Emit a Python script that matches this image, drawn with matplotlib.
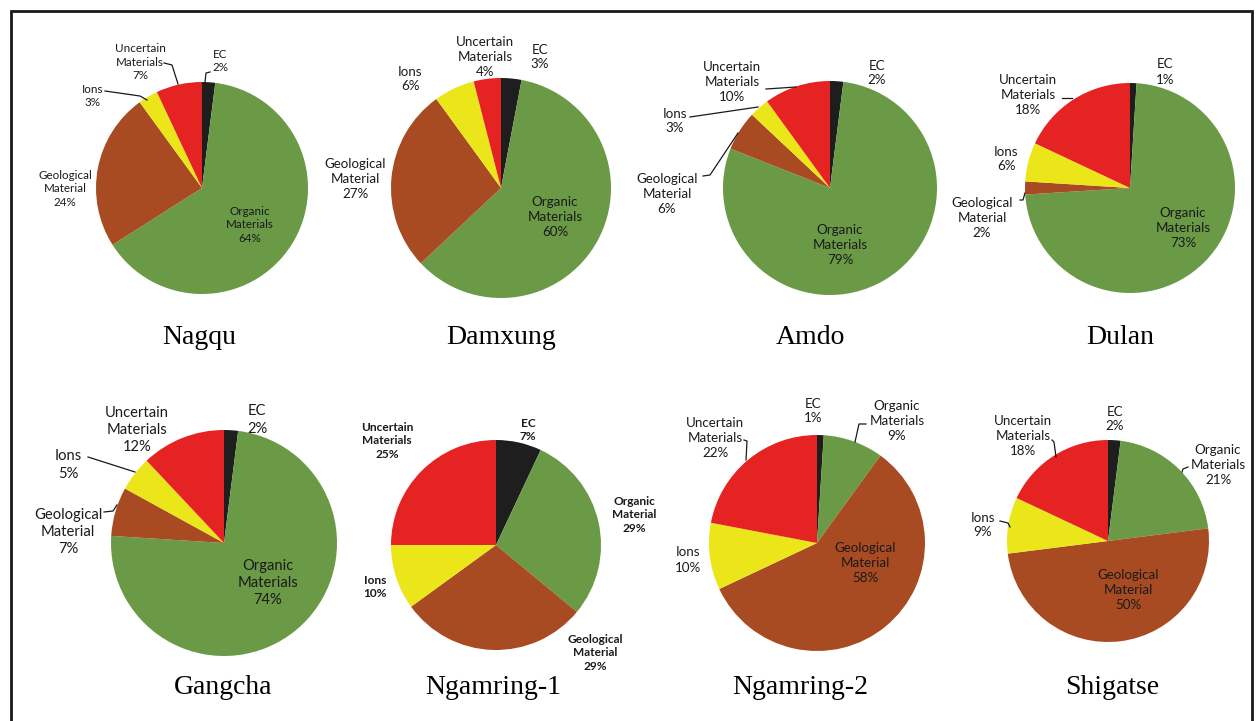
import matplotlib.pyplot as plt
from matplotlib.patches import Rectangle

# ---- data (percent of PM mass) ----
sites = ['Nagqu', 'Damxung', 'Amdo', 'Dulan',
         'Gangcha', 'Ngamring-1', 'Ngamring-2', 'Shigatse']
components = ['EC', 'Organic\nMaterials', 'Geological\nMaterial', 'Ions', 'Uncertain\nMaterials']
ec = [2, 3, 2, 1, 2, 7, 1, 2]
organic = [64, 60, 79, 73, 74, 29, 9, 21]
geological = [24, 27, 6, 2, 7, 29, 58, 50]
ions = [3, 6, 3, 6, 5, 10, 10, 9]
uncertain = [7, 4, 10, 18, 12, 25, 22, 18]

colors = ['#1e1e1e', '#6a9a46', '#a84b22', '#ebe619', '#e52322']

W, H = 1258, 721

# ---- layout in pixels: pie centre, radius, title position, font size ----
layout = {
    'Nagqu':      dict(c=(202, 188), r=106, title=(199, 338), fs=8.4, bold=False),
    'Damxung':    dict(c=(501, 188), r=110, title=(501, 338), fs=9.6, bold=False),
    'Amdo':       dict(c=(830, 188), r=107, title=(810, 338), fs=9.6, bold=False),
    'Dulan':      dict(c=(1130, 188), r=105, title=(1120, 338), fs=9.6, bold=False),
    'Gangcha':    dict(c=(224, 543), r=113, title=(223, 687), fs=10.6, bold=False),
    'Ngamring-1': dict(c=(496, 545), r=105, title=(493, 687), fs=8.6, bold=True),
    'Ngamring-2': dict(c=(817, 543), r=108, title=(800, 687), fs=9.6, bold=False),
    'Shigatse':   dict(c=(1108, 541), r=101, title=(1112, 687), fs=9.6, bold=False),
}

# label centres (px) for EC, Organic, Geological, Ions, Uncertain
label_pos = {
    'Nagqu':      [(220, 61), (250, 225), (65, 189), (93, 96), (140, 62)],
    'Damxung':    [(540, 57), (555, 217), (355, 179), (410, 79), (485, 57)],
    'Amdo':       [(877, 73), (840, 245), (667, 194), (675, 121), (732, 82)],
    'Dulan':      [(1165, 72), (1183, 228), (982, 218), (1006, 159), (1028, 95)],
    'Gangcha':    [(257, 420), (268, 583), (68, 532), (68, 465), (137, 430)],
    'Ngamring-1': [(528, 430), (634, 515), (595, 653), (375, 587), (387, 441)],
    'Ngamring-2': [(813, 411), (897, 421), (865, 563), (688, 560), (715, 438)],
    'Shigatse':   [(1115, 419), (1218, 465), (1128, 590), (983, 525), (1023, 436)],
}

# leader lines (px)
leaders = {
    'Nagqu': [[(164, 63), (172, 65), (178, 84)], [(210, 72), (206, 73), (205, 82)],
              [(105, 91), (140, 96), (147, 100)]],
    'Amdo': [[(766, 89), (796, 87)], [(690, 117), (758, 107)],
             [(703, 176), (710, 175), (738, 133)]],
    'Dulan': [[(1062, 98), (1072, 98)], [(1020, 200), (1023, 200), (1025, 193)]],
    'Gangcha': [[(88, 457), (135, 472)], [(104, 512), (113, 511), (117, 505)]],
    'Ngamring-2': [[(866, 424), (859, 424), (855, 442)], [(744, 440), (747, 441), (746, 460)]],
    'Shigatse': [[(1188, 467), (1183, 469), (1182, 472)], [(1000, 521), (1008, 523), (1010, 527)],
                 [(1052, 440), (1054, 442), (1056, 457)]],
}

plt.rcParams['font.family'] = ['Lato', 'DejaVu Sans']

fig = plt.figure(figsize=(W / 100, H / 100), dpi=100)
ax = fig.add_axes([0, 0, 1, 1])

for i, site in enumerate(sites):
    lay = layout[site]
    cx, cy = lay['c']
    vals = [ec[i], organic[i], geological[i], ions[i], uncertain[i]]
    ax.pie(vals, colors=colors, startangle=90, counterclock=False,
           center=(cx, H - cy), radius=lay['r'],
           wedgeprops={'linewidth': 0})

    names = list(components)
    if site == 'Ngamring-1':
        names[1] = 'Organic\nMaterial'
    for name, v, (lx, ly) in zip(names, vals, label_pos[site]):
        ax.text(lx, H - ly, f'{name}\n{v}%', ha='center', va='center',
                fontsize=lay['fs'], linespacing=1.3, color='#1a1a1a',
                fontweight='bold' if lay['bold'] else 'normal')

    for pts in leaders.get(site, []):
        ax.plot([p[0] for p in pts], [H - p[1] for p in pts],
                color='#1a1a1a', lw=0.9)

    tx, ty = lay['title']
    ax.text(tx, H - ty, site, ha='center', va='center', fontsize=20,
            family='Liberation Serif', color='black')

ax.set_xlim(0, W)
ax.set_ylim(0, H)
ax.set_aspect('equal')
ax.axis('off')

# outer frame
ax.add_patch(Rectangle((11, -20), 1241, H - 11 + 20, fill=False,
                       edgecolor='#1a1a1a', lw=2, clip_on=False))

fig.savefig('out.png', dpi=100, facecolor='white')
